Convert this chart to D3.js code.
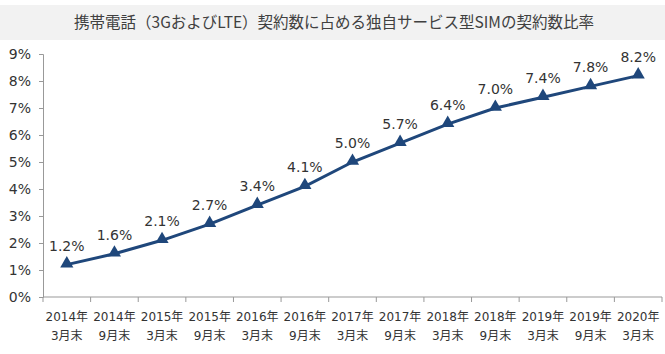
<!DOCTYPE html>
<html>
<head>
<meta charset="utf-8">
<script src="https://cdn.jsdelivr.net/npm/d3@7"></script>
<style>
  body { margin: 0; background: #fff; }
  text { font-family: "DejaVu Sans", Verdana, sans-serif; fill: #333; }
  .title { font-family: "Noto Sans CJK JP", sans-serif; }
  .xlab { font-family: "DejaVu Sans", "Noto Sans CJK JP", sans-serif; }
</style>
</head>
<body>
<div id="chart"></div>
<script>
var years = ["2014年", "2014年", "2015年", "2015年", "2016年", "2016年", "2017年",
             "2017年", "2018年", "2018年", "2019年", "2019年", "2020年"];
var months = ["3月末", "9月末", "3月末", "9月末", "3月末", "9月末", "3月末",
              "9月末", "3月末", "9月末", "3月末", "9月末", "3月末"];
var shares = [1.2, 1.6, 2.1, 2.7, 3.4, 4.1, 5.0, 5.7, 6.4, 7.0, 7.4, 7.8, 8.2];
var yTicks = [0, 1, 2, 3, 4, 5, 6, 7, 8, 9];

var width = 665;
var height = 354;
var plotLeft = 43, plotRight = 662, plotTop = 54, plotBottom = 297;

var svg = d3.select("#chart")
    .append("svg")
    .attr("width", width)
    .attr("height", height);

// title band
svg.append("rect")
    .attr("x", 0)
    .attr("y", 5)
    .attr("width", width)
    .attr("height", 35)
    .attr("fill", "#f2f2f2");

svg.append("text")
    .attr("class", "title")
    .attr("x", 334)
    .attr("y", 28)
    .attr("text-anchor", "middle")
    .attr("font-size", "15.5px")
    .style("fill", "#404040")
    .text("携帯電話（3GおよびLTE）契約数に占める独自サービス型SIMの契約数比率");

var x = d3.scaleBand()
    .domain(d3.range(shares.length))
    .range([plotLeft, plotRight]);

var y = d3.scaleLinear()
    .domain([0, 9])
    .range([plotBottom, plotTop]);

// y axis
var yAxis = svg.append("g")
    .attr("transform", "translate(" + plotLeft + ",0)")
    .call(d3.axisLeft(y).tickValues(yTicks).tickSize(4).tickPadding(8)
      .tickFormat(function(d){ return d + "%"; }));
yAxis.select(".domain").attr("stroke", "#999");
yAxis.selectAll(".tick line").attr("stroke", "#999");
yAxis.selectAll(".tick text")
    .attr("font-size", "14px")
    .attr("font-family", "DejaVu Sans, Verdana, sans-serif")
    .style("fill", "#333");

// x axis
var xg = svg.append("g")
    .attr("transform", "translate(0," + plotBottom + ")");
xg.append("line")
    .attr("x1", plotLeft).attr("x2", plotRight)
    .attr("stroke", "#999");
xg.selectAll("line.tk")
    .data(d3.range(shares.length + 1))
    .enter()
    .append("line")
    .attr("class", "tk")
    .attr("x1", function(i){ return i < shares.length ? x(i) : x(i - 1) + x.bandwidth(); })
    .attr("x2", function(i){ return i < shares.length ? x(i) : x(i - 1) + x.bandwidth(); })
    .attr("y1", 0).attr("y2", 5)
    .attr("stroke", "#999");

var xl = xg.selectAll("text")
    .data(shares)
    .enter()
    .append("text")
    .attr("class", "xlab")
    .attr("text-anchor", "middle")
    .attr("font-size", "12px")
    .attr("x", function(d, i){ return x(i) + x.bandwidth() / 2; });
xl.append("tspan")
    .attr("x", function(d, i){ return x(i) + x.bandwidth() / 2; })
    .attr("y", 24)
    .text(function(d, i){ return years[i]; });
xl.append("tspan")
    .attr("x", function(d, i){ return x(i) + x.bandwidth() / 2; })
    .attr("y", 43)
    .text(function(d, i){ return months[i]; });

// line
var line = d3.line()
    .x(function(d, i){ return x(i) + x.bandwidth() / 2; })
    .y(function(d){ return y(d); });

svg.append("path")
    .datum(shares)
    .attr("fill", "none")
    .attr("stroke", "#1f477b")
    .attr("stroke-width", 3)
    .attr("d", line);

svg.selectAll("path.mark")
    .data(shares)
    .enter()
    .append("path")
    .attr("class", "mark")
    .attr("d", d3.symbol().type(d3.symbolTriangle).size(75))
    .attr("transform", function(d, i){
      return "translate(" + (x(i) + x.bandwidth() / 2) + "," + (y(d) - 1) + ")";
    })
    .attr("fill", "#1f477b");

svg.selectAll("text.val")
    .data(shares)
    .enter()
    .append("text")
    .attr("class", "val")
    .attr("text-anchor", "middle")
    .attr("font-size", "14px")
    .attr("x", function(d, i){ return x(i) + x.bandwidth() / 2; })
    .attr("y", function(d){ return y(d) - 14; })
    .text(function(d){ return d.toFixed(1) + "%"; });
</script>
</body>
</html>
